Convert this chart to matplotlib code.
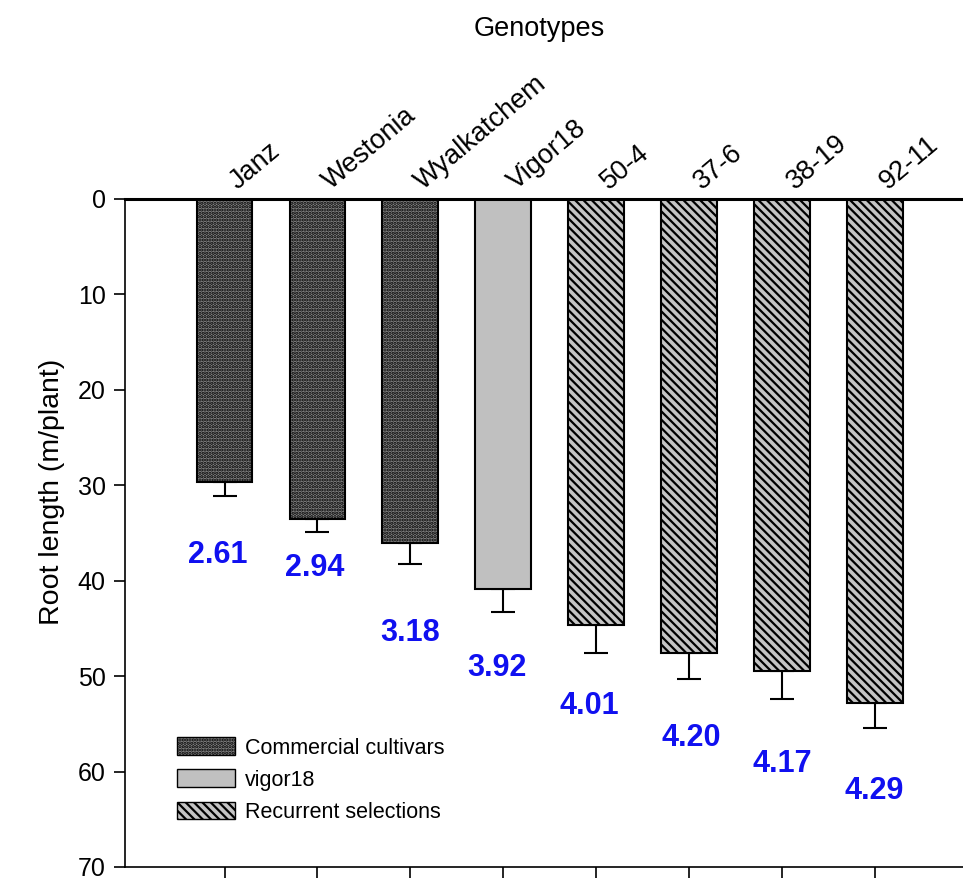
import numpy as np
import matplotlib
matplotlib.use('Agg')
import matplotlib.pyplot as plt
import matplotlib.transforms as mtransforms
from matplotlib.patches import Patch

plt.rcParams['font.family'] = ['Liberation Sans', 'DejaVu Sans']
plt.rcParams['hatch.linewidth'] = 1.6

# data
genotypes = ['Janz', 'Westonia', 'Wyalkatchem', 'Vigor18', '50-4', '37-6', '38-19', '92-11']
groups = ['comm', 'comm', 'comm', 'vigor', 'rec', 'rec', 'rec', 'rec']
root_len = [29.7, 33.5, 36.0, 40.9, 44.6, 47.6, 49.5, 52.8]
root_err = [1.4, 1.4, 2.2, 2.4, 3.0, 2.7, 2.9, 2.6]
ratio_txt = ['2.61', '2.94', '3.18', '3.92', '4.01', '4.20', '4.17', '4.29']
ratio_y = [37.3, 38.7, 45.5, 49.1, 53.1, 56.5, 59.2, 62.0]
ratio_dx = [-0.07, -0.03, 0.0, -0.07, -0.07, 0.02, 0.0, -0.01]

styles = {
    'comm': dict(facecolor='#858585', hatch='.....', label='Commercial cultivars'),
    'vigor': dict(facecolor='#c0c0c0', hatch=None, label='vigor18'),
    'rec': dict(facecolor='#c4c4c4', hatch=r'\\\\', label='Recurrent selections'),
}

fig = plt.figure(figsize=(9.63, 8.8), dpi=100)
ax = fig.add_axes([0.13, 0.0148, 0.87, 0.7591])

x = np.arange(len(genotypes))
for i, g in enumerate(groups):
    st = styles[g]
    ax.bar(x[i], root_len[i], width=0.6, facecolor=st['facecolor'], hatch=st['hatch'],
           edgecolor='black', linewidth=1.5, zorder=2)
ax.errorbar(x, root_len, yerr=[np.zeros(len(x)), root_err], fmt='none', ecolor='black',
            elinewidth=1.5, capsize=8.5, capthick=1.5, zorder=1)

for i in range(len(x)):
    ax.text(x[i] + ratio_dx[i], ratio_y[i], ratio_txt[i], color='#1010f0', fontsize=22,
            fontweight='bold', ha='center', va='center')

ax.set_xlim(-1.07, 7.95)
ax.set_ylim(70, 0)
ax.set_yticks(np.arange(0, 71, 10))
ax.set_xticks(x)
ax.set_xticklabels(genotypes, rotation=40, ha='left', rotation_mode='anchor', fontsize=19.5)
ax.tick_params(axis='x', bottom=True, top=False, labelbottom=False, labeltop=True,
               direction='out', length=8, width=1.2, pad=2)
ax.tick_params(axis='y', direction='out', length=8, width=1.2, labelsize=18, pad=6)
# nudge the top labels right and down
shift = mtransforms.ScaledTranslation(17 / 100, -10 / 100, fig.dpi_scale_trans)
for lab in ax.xaxis.get_majorticklabels():
    lab.set_transform(lab.get_transform() + shift)
ax.spines['right'].set_visible(False)
ax.spines['top'].set_linewidth(2.2)
ax.spines['left'].set_linewidth(1.2)
ax.spines['bottom'].set_linewidth(1.2)
ax.set_ylabel('Root length (m/plant)', fontsize=20.5)
ax.yaxis.set_label_coords(-0.072, 0.561)

fig.text(0.56, 0.967, 'Genotypes', fontsize=19.5, ha='center', va='center')

handles = [Patch(facecolor=styles[k]['facecolor'], hatch=styles[k]['hatch'], edgecolor='black',
                 label=styles[k]['label']) for k in ['comm', 'vigor', 'rec']]
ax.legend(handles=handles, loc='lower left', bbox_to_anchor=(0.039, 0.037), frameon=False,
          fontsize=15.5, handlelength=2.7, handleheight=0.9, handletextpad=0.45, labelspacing=0.5)

fig.savefig('out.png', dpi=100)
